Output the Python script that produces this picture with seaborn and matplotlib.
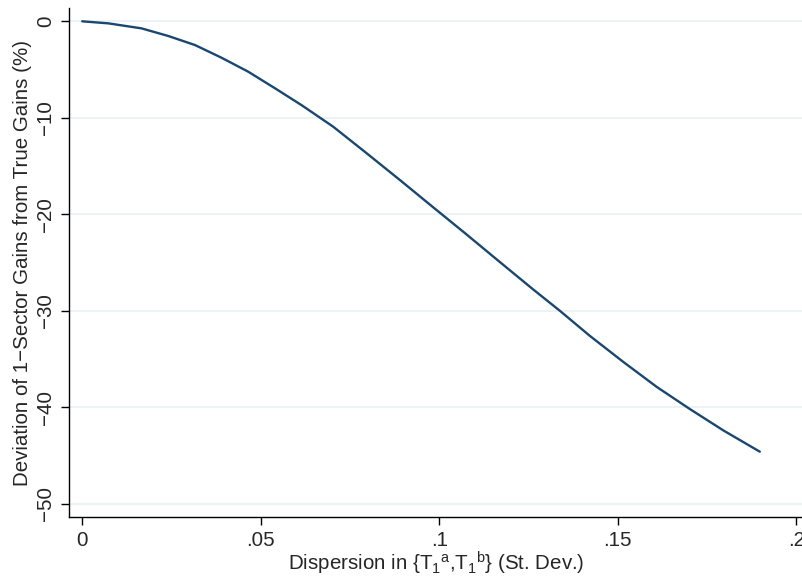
import matplotlib
matplotlib.use('Agg')
import matplotlib.pyplot as plt
import seaborn as sns
import pandas as pd

# values
dispersion = [0.0, 0.0073, 0.0166, 0.0241, 0.0316, 0.039, 0.0465, 0.054,
              0.0615, 0.0703, 0.0797, 0.089, 0.0984, 0.1077, 0.117, 0.1263,
              0.1338, 0.1422, 0.1515, 0.1609, 0.1702, 0.1796, 0.1898]
deviation = [0.0, -0.21, -0.73, -1.52, -2.46, -3.77, -5.22, -6.94,
             -8.70, -10.92, -13.68, -16.45, -19.30, -22.10, -24.95, -27.78,
             -30.00, -32.60, -35.28, -37.88, -40.18, -42.40, -44.60]

x_ticks = [0, 0.05, 0.1, 0.15, 0.2]
x_tick_labels = ['0', '.05', '.1', '.15', '.2']
y_ticks = [0, -10, -20, -30, -40, -50]
y_tick_labels = ['0', '\u221210', '\u221220', '\u221230', '\u221240', '\u221250']

df = pd.DataFrame({'dispersion': dispersion, 'deviation': deviation})

sns.set_style('ticks')
plt.rcParams['font.family'] = ['Liberation Sans', 'DejaVu Sans']
plt.rcParams['mathtext.default'] = 'regular'

fig = plt.figure(figsize=(8.03, 5.79), dpi=100)
ax = fig.add_axes([69 / 803, 62 / 579, 734 / 803, 509 / 579])

sns.lineplot(data=df, x='dispersion', y='deviation', ax=ax,
             color='#1a476f', linewidth=1.7, zorder=3)

ax.set_xlim(-0.0037, 0.2019)
ax.set_ylim(-51.37, 1.38)
ax.set_xticks(x_ticks)
ax.set_xticklabels(x_tick_labels)
ax.set_yticks(y_ticks)
ax.set_yticklabels(y_tick_labels, rotation=90, va='center')

ax.yaxis.grid(True, color='#eaf2f3', linewidth=1.3, zorder=0)
ax.xaxis.grid(False)
sns.despine(ax=ax)
for side in ['left', 'bottom']:
    ax.spines[side].set_linewidth(1.0)
    ax.spines[side].set_color('black')
ax.tick_params(axis='both', length=6, width=1.0, color='black', labelsize=14.8)
ax.tick_params(axis='x', pad=4)
ax.tick_params(axis='y', pad=4)

ax.set_xlabel('Dispersion in {T$_1$$^a$,T$_1$$^b$} (St. Dev.)', fontsize=14.8, labelpad=0)
ax.set_ylabel('Deviation of 1\u2212Sector Gains from True Gains (%)', fontsize=14.8, labelpad=3)

plt.savefig('out.png', dpi=100)
